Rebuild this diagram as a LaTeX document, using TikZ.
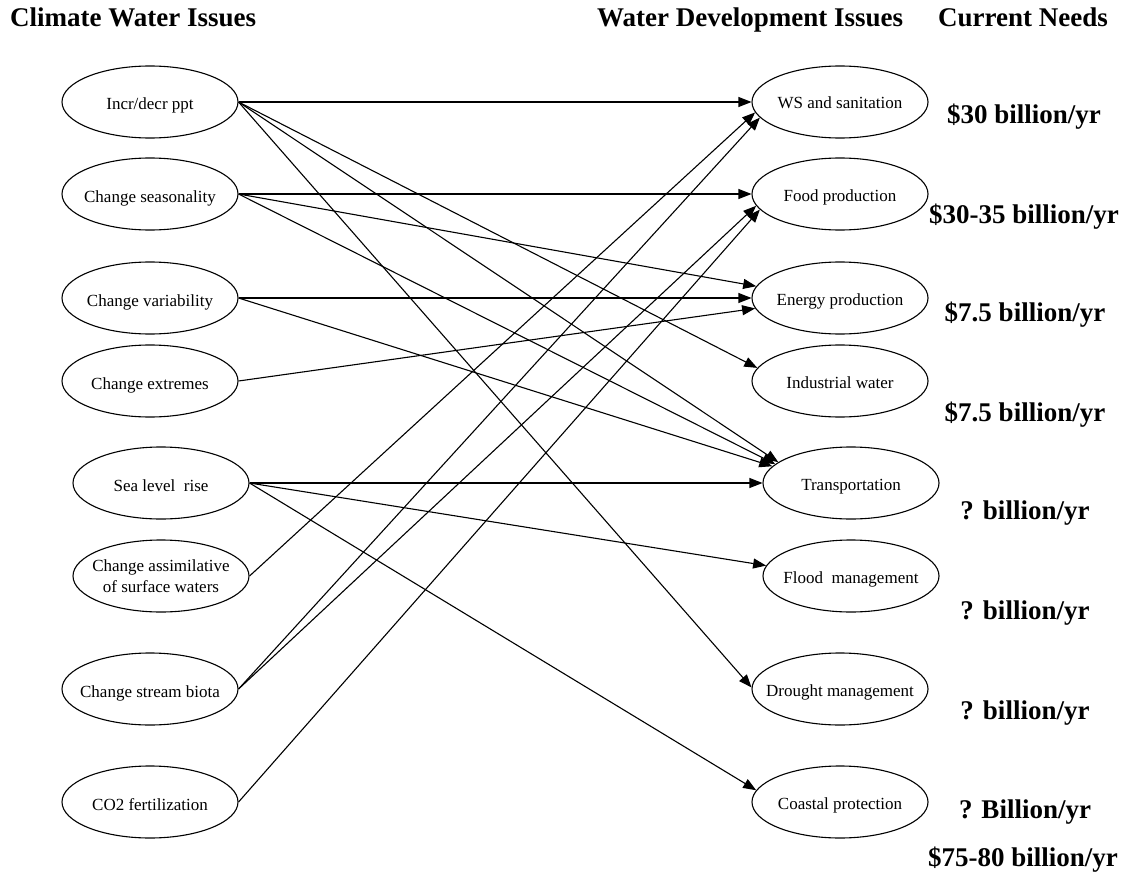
\documentclass[tikz,border=0pt]{standalone}
\usepackage{fontspec}
\setmainfont{Liberation Serif}
\usetikzlibrary{shapes.geometric,arrows.meta}
\newcommand{\zw}[1]{\makebox[0pt][c]{#1}}
\newcommand{\twol}[2]{\makebox[0pt][c]{\def\arraystretch{1}\begin{tabular}[b]{@{}c@{}}#1\\#2\end{tabular}}}
\begin{document}
\begin{tikzpicture}[x=1pt,y=-1pt,
  issue/.style={ellipse,draw,line width=1.1pt,minimum width=176pt,minimum height=72pt,inner sep=0pt,text height=14pt,text depth=0pt,font=\fontsize{17}{21}\selectfont},
  cost/.style={inner sep=0pt,font=\fontsize{27}{30}\selectfont\bfseries},
  head/.style={inner sep=0pt,anchor=base west,font=\fontsize{27}{30}\selectfont\bfseries},
  link/.style={line width=1.1pt,-{Triangle[length=13pt,width=10pt]}}]
\useasboundingbox (0,0) rectangle (1128,875);
% headers
\node[head] (h1) at (10,27) {Climate Water Issues};
\node[head] (h2) at (597,27) {Water Development Issues};
\node[head] (h3) at (938,27) {Current Needs};
% left column
\node[issue,text height=16pt] (ppt) at (150,102) {\zw{Incr/decr ppt}};
\node[issue,text height=16pt] (seas) at (150,194) {\zw{Change seasonality}};
\node[issue,text height=16pt] (var) at (150,298) {\zw{Change variability}};
\node[issue,text height=16pt] (ext) at (150,381) {\zw{Change extremes}};
\node[issue,text height=16pt] (sea) at (161,483) {\zw{Sea level\ \ rise}};
\node[issue,text height=32pt] (assim) at (161,576) {\twol{Change assimilative}{of surface waters}};
\node[issue,text height=16pt] (biota) at (150,689) {\zw{Change stream biota}};
\node[issue,text height=16pt] (co2) at (150,802) {\zw{CO2 fertilization}};
% right column
\node[issue] (ws) at (840,102) {\zw{WS and sanitation}};
\node[issue] (food) at (840,194) {\zw{Food production}};
\node[issue] (energy) at (840,298) {\zw{Energy production}};
\node[issue] (ind) at (840,381) {\zw{Industrial water}};
\node[issue] (trans) at (851,483) {\zw{Transportation}};
\node[issue] (flood) at (851,576) {\zw{Flood\ \ management}};
\node[issue] (drought) at (840,689) {\zw{Drought management}};
\node[issue] (coast) at (840,802) {\zw{Coastal protection}};
% costs
\node[cost] (c1) at (1024,117) {\$30 billion/yr};
\node[cost] (c2) at (1024,217) {\$30-35 billion/yr};
\node[cost] (c3) at (1025,315) {\$7.5 billion/yr};
\node[cost] (c4) at (1025,415) {\$7.5 billion/yr};
\node[cost] (c5) at (1025,513) {? billion/yr};
\node[cost] (c6) at (1025,613) {? billion/yr};
\node[cost] (c7) at (1025,713) {? billion/yr};
\node[cost] (c8) at (1025,812) {? Billion/yr};
\node[cost] (c9) at (1023,860) {\$75-80 billion/yr};
% connectors
\draw[link] (ppt.east) -- (ws.west);
\draw[link] (ppt.east) -- (ind.171);
\draw[link] (ppt.east) -- (trans.164);
\draw[link] (ppt.east) -- (drought.179);
\draw[link] (seas.east) -- (food.west);
\draw[link] (seas.east) -- (energy.172);
\draw[link] (seas.east) -- (trans.166);
\draw[link] (var.east) -- (energy.west);
\draw[link] (var.east) -- (trans.168);
\draw[link] (ext.east) -- (energy.187);
\draw[link] (sea.east) -- (trans.west);
\draw[link] (sea.east) -- (flood.173);
\draw[link] (sea.east) -- (coast.172);
\draw[link] (assim.east) -- (ws.187);
\draw[link] (biota.east) -- (ws.191);
\draw[link] (biota.east) -- (food.188);
\draw[link] (co2.east) -- (food.191);
\end{tikzpicture}
\end{document}
